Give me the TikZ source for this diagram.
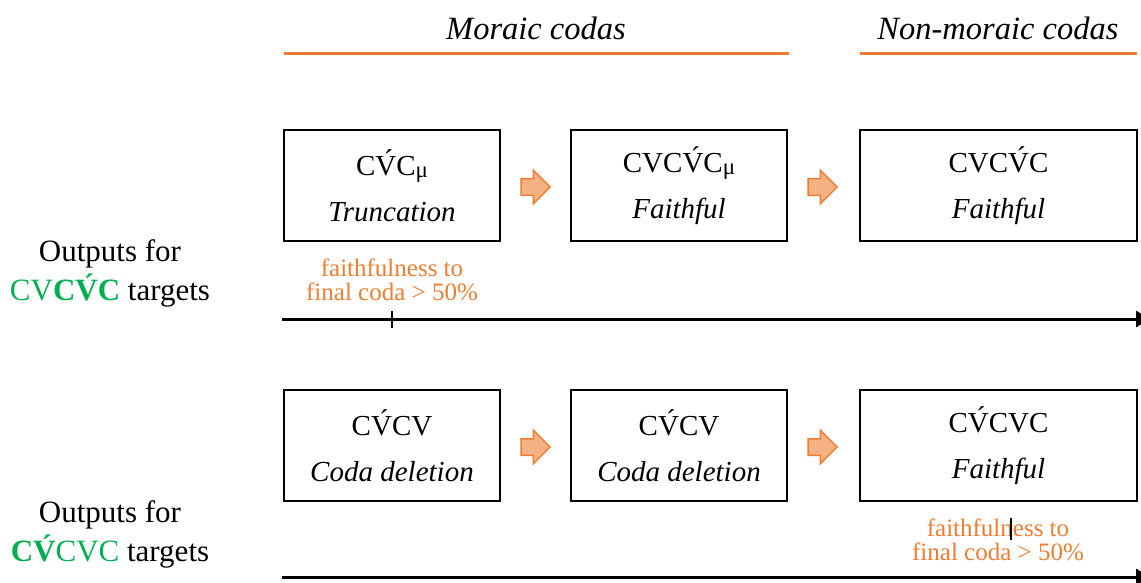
\documentclass[tikz,border=0pt]{standalone}
\usepackage{fontspec}
\setmainfont{Liberation Serif}
\usetikzlibrary{shapes.arrows,arrows.meta}
\definecolor{orng}{HTML}{ED7D31}
\definecolor{orngfill}{HTML}{F4B183}
\definecolor{grn}{HTML}{00B050}
\newcommand{\mysub}{\raisebox{-0.08em}{\fontsize{23}{23}\selectfont μ}}
\begin{document}
\begin{tikzpicture}[x=1pt,y=-1pt,
  stagebox/.style={draw,line width=2pt,minimum height=111pt,align=center,inner sep=0pt,
    font=\fontsize{29}{46}\selectfont},
  blockarrow/.style={single arrow,draw=orng,fill=orngfill,line width=1.5pt,
    minimum height=29pt,minimum width=32pt,single arrow head extend=8.5pt,
    inner xsep=0pt,inner ysep=7.5pt},
  headline/.style={font=\fontsize{32.5}{38}\selectfont\itshape},
  rule/.style={orng,line width=3pt},
  axis/.style={line width=3pt,-{Triangle[length=14pt,width=16pt]}},
  tick/.style={line width=2pt},
  sidelabel/.style={align=center,font=\fontsize{31}{39}\selectfont},
  note/.style={align=center,text=orng,font=\fontsize{25}{24.5}\selectfont}]
\useasboundingbox (0,0) rectangle (1141,583);
\clip (0,0) rectangle (1141,583);
% headings
\node[headline] (mor) at (536,28) {Moraic codas};
\node[headline] (nonmor) at (998,28) {Non-moraic codas};
\coordinate (r1a) at (284,54); \coordinate (r1b) at (789,54);
\coordinate (r2a) at (860,54); \coordinate (r2b) at (1137,54);
\draw[rule] (r1a) -- (r1b);
\draw[rule] (r2a) -- (r2b);
% row 1
\node[stagebox,minimum width=216pt] (a1) at (392,185.5) {CV́C\mysub\\\textit{Truncation}};
\node[stagebox,minimum width=216pt] (a2) at (679,185.5) {CVCV́C\mysub\\\textit{Faithful}};
\node[stagebox,minimum width=277pt] (a3) at (998.5,185.5) {CVCV́C\\\textit{Faithful}};
\node[blockarrow] (ar1) at (531.5,187) {};
\node[blockarrow] (ar2) at (818.5,187) {};
\node[sidelabel] (lab1) at (110,273) {Outputs for\\{\color{grn}CV\textbf{CV́C}} targets};
\node[note] (n1) at (392,280) {faithfulness to\\final coda > 50\%};
\coordinate (x1a) at (282,319); \coordinate (x1b) at (1150,319);
\draw[axis] (x1a) -- (x1b);
\coordinate (t1a) at (392,311); \coordinate (t1b) at (392,328);
\draw[tick] (t1a) -- (t1b);
% row 2
\node[stagebox,minimum width=216pt] (b1) at (392,445.5) {CV́CV\\\textit{Coda deletion}};
\node[stagebox,minimum width=216pt] (b2) at (679,445.5) {CV́CV\\\textit{Coda deletion}};
\node[stagebox,minimum width=277pt] (b3) at (998.5,445.5) {CV́CVC\\\textit{Faithful}};
\node[blockarrow] (br1) at (531.5,447) {};
\node[blockarrow] (br2) at (818.5,447) {};
\node[sidelabel] (lab2) at (110,534) {Outputs for\\{\color{grn}\textbf{CV́}CVC} targets};
\node[note] (n2) at (998,540) {faithfulness to\\final coda > 50\%};
\coordinate (x2a) at (282,577); \coordinate (x2b) at (1150,577);
\draw[axis] (x2a) -- (x2b);
\coordinate (t2a) at (1011,518); \coordinate (t2b) at (1011,540);
\draw[tick] (t2a) -- (t2b);
\end{tikzpicture}
\end{document}
